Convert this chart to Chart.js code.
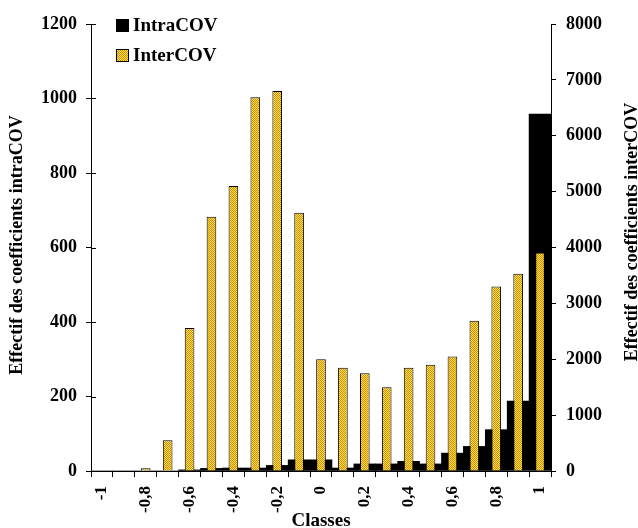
<!DOCTYPE html>
<html>
<head>
<meta charset="utf-8">
<script src="https://cdn.jsdelivr.net/npm/chart.js@4.4.0/dist/chart.umd.min.js"></script>
<style>
  html, body { margin: 0; padding: 0; background: #fff; }
  canvas { display: block; }
</style>
</head>
<body>
<canvas id="covChart" width="638" height="528"></canvas>
<script>
// classes (x axis), labels shown every other class
const classes = ['-1', '-0,9', '-0,8', '-0,7', '-0,6', '-0,5', '-0,4', '-0,3', '-0,2', '-0,1', '0',
  '0,1', '0,2', '0,3', '0,4', '0,5', '0,6', '0,7', '0,8', '0,9', '1'];

// effectif intraCOV (left axis)
const intraCOV = [0, 0, 0, 0, 3, 7, 8, 8, 15, 30, 30, 8, 19, 19, 26, 19, 48, 66, 111, 188, 958];

// effectif interCOV (right axis)
const interCOV = [0, 0, 50, 550, 2560, 4550, 5100, 6690, 6800, 4620, 2000, 1850, 1750, 1500, 1850, 1900,
  2050, 2690, 3300, 3530, 3910];

const leftTicks = [0, 200, 400, 600, 800, 1000, 1200];
const rightTicks = [0, 1000, 2000, 3000, 4000, 5000, 6000, 7000, 8000];

const serif = 'Liberation Serif, Times New Roman, serif';

// yellow checker fill like the excel pattern
function makePattern() {
  const c = document.createElement('canvas');
  c.width = 2;
  c.height = 2;
  const g = c.getContext('2d');
  g.fillStyle = '#FFE040';
  g.fillRect(0, 0, 2, 2);
  g.fillStyle = '#C48E18';
  g.fillRect(0, 0, 1, 1);
  g.fillRect(1, 1, 1, 1);
  return g.createPattern(c, 'repeat');
}
const yellowFill = makePattern();

// titles, legend and the inner half of the left ticks drawn by hand
const extraText = {
  id: 'extraText',
  afterDraw: (chart) => {
    const ctx = chart.ctx;
    const area = chart.chartArea;
    ctx.save();

    // left ticks cross the axis
    ctx.strokeStyle = '#000';
    ctx.lineWidth = 1;
    leftTicks.forEach(v => {
      const y = Math.round(chart.scales.y.getPixelForValue(v)) + 0.5;
      ctx.beginPath();
      ctx.moveTo(area.left, y);
      ctx.lineTo(area.left + 5, y);
      ctx.stroke();
    });

    ctx.fillStyle = '#000';
    ctx.textAlign = 'center';
    ctx.textBaseline = 'middle';
    ctx.font = 'bold 18px ' + serif;

    ctx.save();
    ctx.translate(17, 245);
    ctx.rotate(-Math.PI / 2);
    ctx.fillText('Effectif des coefficients intraCOV', 0, 0);
    ctx.restore();

    ctx.save();
    ctx.translate(632, 232);
    ctx.rotate(-Math.PI / 2);
    ctx.fillText('Effectif des coefficients interCOV', 0, 0);
    ctx.restore();

    ctx.font = 'bold 19px ' + serif;
    ctx.fillText('Classes', (area.left + area.right) / 2, 521);

    // legend
    ctx.textAlign = 'left';
    ctx.textBaseline = 'alphabetic';
    ctx.fillStyle = '#000';
    ctx.fillRect(116, 19, 13, 13);
    ctx.fillText(chart.data.datasets[1].label, 133, 31);
    ctx.fillStyle = yellowFill;
    ctx.fillRect(116, 49, 13, 13);
    ctx.strokeRect(116.5, 49.5, 12, 12);
    ctx.fillStyle = '#000';
    ctx.fillText(chart.data.datasets[0].label, 133, 61);
    ctx.restore();
  }
};

const cov_data = {
  labels: classes,
  datasets: [
    {
      label: 'InterCOV',
      data: interCOV,
      yAxisID: 'y1',
      grouped: false,
      backgroundColor: yellowFill,
      borderColor: '#000',
      borderWidth: 1,
      barPercentage: 0.44,
      categoryPercentage: 1
    },
    {
      label: 'IntraCOV',
      data: intraCOV,
      yAxisID: 'y',
      grouped: false,
      backgroundColor: '#000',
      borderWidth: 0,
      barPercentage: 1,
      categoryPercentage: 1
    }
  ]
};

const tickFont = { family: serif, size: 18, weight: 'bold' };

const cov_config = {
  type: 'bar',
  data: cov_data,
  options: {
    responsive: false,
    animation: false,
    devicePixelRatio: 1,
    layout: { padding: { top: 24, left: 0, right: 0, bottom: 0 } },
    plugins: {
      legend: { display: false },
      tooltip: { enabled: false }
    },
    scales: {
      x: {
        offset: true,
        grid: { offset: true, drawOnChartArea: false, color: '#000', tickLength: 6 },
        border: { color: '#000', width: 1 },
        ticks: {
          autoSkip: false,
          maxRotation: 90,
          minRotation: 90,
          padding: 9,
          color: '#000',
          font: { family: serif, size: 17, weight: 'bold' },
          callback: (value, index) => (index % 2 === 0 ? classes[index] : '')
        },
        afterFit: (scale) => { scale.height = 57; }
      },
      y: {
        position: 'left',
        min: 0,
        max: 1200,
        afterBuildTicks: (scale) => { scale.ticks = leftTicks.map(v => ({ value: v })); },
        grid: { drawOnChartArea: false, color: '#000', tickLength: 5 },
        border: { color: '#000', width: 1 },
        ticks: {
          padding: 9,
          color: '#000',
          font: tickFont,
          callback: (value) => String(value)
        },
        afterFit: (scale) => { scale.width = 91; }
      },
      y1: {
        position: 'right',
        min: 0,
        max: 8000,
        afterBuildTicks: (scale) => { scale.ticks = rightTicks.map(v => ({ value: v })); },
        grid: { drawOnChartArea: false, color: '#000', tickLength: 5 },
        border: { color: '#000', width: 1 },
        ticks: {
          padding: 10,
          color: '#000',
          font: tickFont,
          callback: (value) => String(value)
        },
        afterFit: (scale) => { scale.width = 87; }
      }
    }
  },
  plugins: [extraText]
};

const covChart = new Chart(document.getElementById('covChart'), cov_config);
</script>
</body>
</html>
